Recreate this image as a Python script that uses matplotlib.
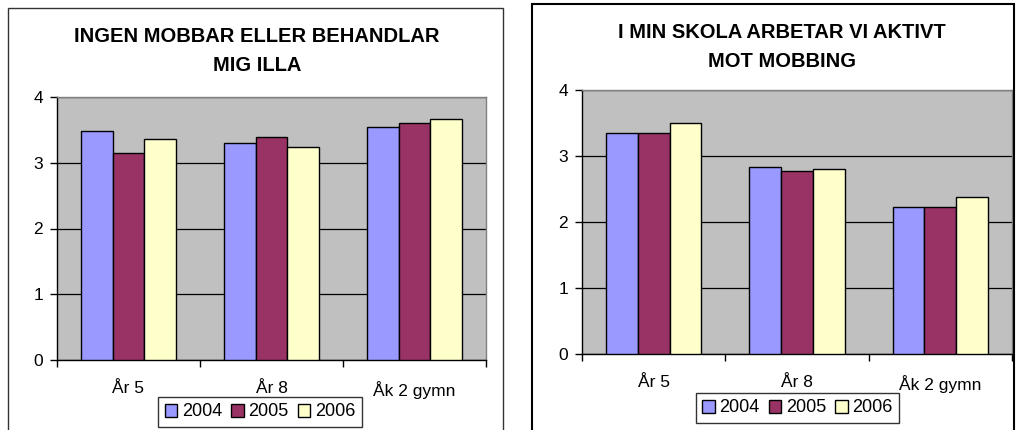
import matplotlib.pyplot as plt
import numpy as np
from matplotlib.patches import Rectangle, Patch

plt.rcParams['font.family'] = ['Liberation Sans', 'DejaVu Sans']

categories = ['År 5', 'År 8', 'Åk 2 gymn']
years = ['2004', '2005', '2006']
colors = ['#9999FF', '#993366', '#FFFFCC']

# chart 1: Ingen mobbar eller behandlar mig illa
mobbar_2004 = [3.48, 3.30, 3.54]
mobbar_2005 = [3.15, 3.39, 3.60]
mobbar_2006 = [3.36, 3.24, 3.66]

# chart 2: I min skola arbetar vi aktivt mot mobbing
aktivt_2004 = [3.35, 2.84, 2.23]
aktivt_2005 = [3.35, 2.78, 2.23]
aktivt_2006 = [3.50, 2.81, 2.38]

W, H = 1019, 430
fig = plt.figure(figsize=(W / 100, H / 100), dpi=100)


def px_axes(x0, y0, x1, y1):
    # pixel box (top-left origin) -> figure fraction
    return fig.add_axes([x0 / W, 1 - y1 / H, (x1 - x0) / W, (y1 - y0) / H])


def draw_chart(ax, series, title, title_y, title_x, leg_box):
    ax.set_facecolor('#C0C0C0')
    x = np.arange(len(categories))
    bw = 1 / 4.5
    for i, vals in enumerate(series):
        ax.bar(x + (i - 1) * bw, vals, bw, color=colors[i], edgecolor='black',
               linewidth=1.0, zorder=3)
    ax.set_xlim(-0.5, len(categories) - 0.5)
    ax.set_ylim(0, 4)
    ax.set_yticks([0, 1, 2, 3, 4])
    ax.yaxis.grid(True, color='black', linewidth=0.9, zorder=1)
    ax.set_axisbelow(True)
    ax.set_xticks(x)
    ax.set_xticklabels(categories, fontsize=12.5)
    ax.set_xticks(np.arange(len(categories) + 1) - 0.5, minor=True)
    ax.tick_params(axis='x', which='major', length=0, pad=15)
    ax.tick_params(axis='x', which='minor', length=5, width=1, direction='out')
    ax.tick_params(axis='y', length=5, width=1, labelsize=12.5, pad=5)
    for s in ['left', 'bottom']:
        ax.spines[s].set_color('black')
        ax.spines[s].set_linewidth(1.0)
    for s in ['top', 'right']:
        ax.spines[s].set_color('#808080')
        ax.spines[s].set_linewidth(1.0)

    fig.text(title_x / W, 1 - title_y / H, title, ha='center', va='center',
             fontsize=14.5, fontweight='bold', linespacing=1.7)

    handles = [Patch(facecolor=c, edgecolor='black', linewidth=1.0) for c in colors]
    x0, y0, x1, y1 = leg_box
    leg = fig.legend(handles, years, loc='center',
                     bbox_to_anchor=((x0 + x1) / 2 / W, 1 - (y0 + y1) / 2 / H),
                     ncol=3, fontsize=13, frameon=True, fancybox=False,
                     edgecolor='black', handlelength=0.7, handleheight=0.7,
                     handletextpad=0.25, columnspacing=0.5, borderpad=0.35,
                     borderaxespad=0)
    leg.get_frame().set_linewidth(1.0)


# outer chart borders
fig.patches.append(Rectangle((8 / W, -0.1), (503 - 8) / W, 1.1 - 8 / H,
                             transform=fig.transFigure, fill=False,
                             edgecolor='#333333', linewidth=1.0))
fig.patches.append(Rectangle((532 / W, -0.1), (1014 - 532) / W, 1.1 - 4 / H,
                             transform=fig.transFigure, fill=False,
                             edgecolor='black', linewidth=1.5))

ax1 = px_axes(57, 97, 486, 360)
draw_chart(ax1, [mobbar_2004, mobbar_2005, mobbar_2006],
           'INGEN MOBBAR ELLER BEHANDLAR\nMIG ILLA', 51, 257, (157, 396, 363, 428))

ax2 = px_axes(582, 90, 1012, 354)
draw_chart(ax2, [aktivt_2004, aktivt_2005, aktivt_2006],
           'I MIN SKOLA ARBETAR VI AKTIVT\nMOT MOBBING', 47, 782, (694, 392, 901, 424))

fig.savefig('out.png', dpi=100)
